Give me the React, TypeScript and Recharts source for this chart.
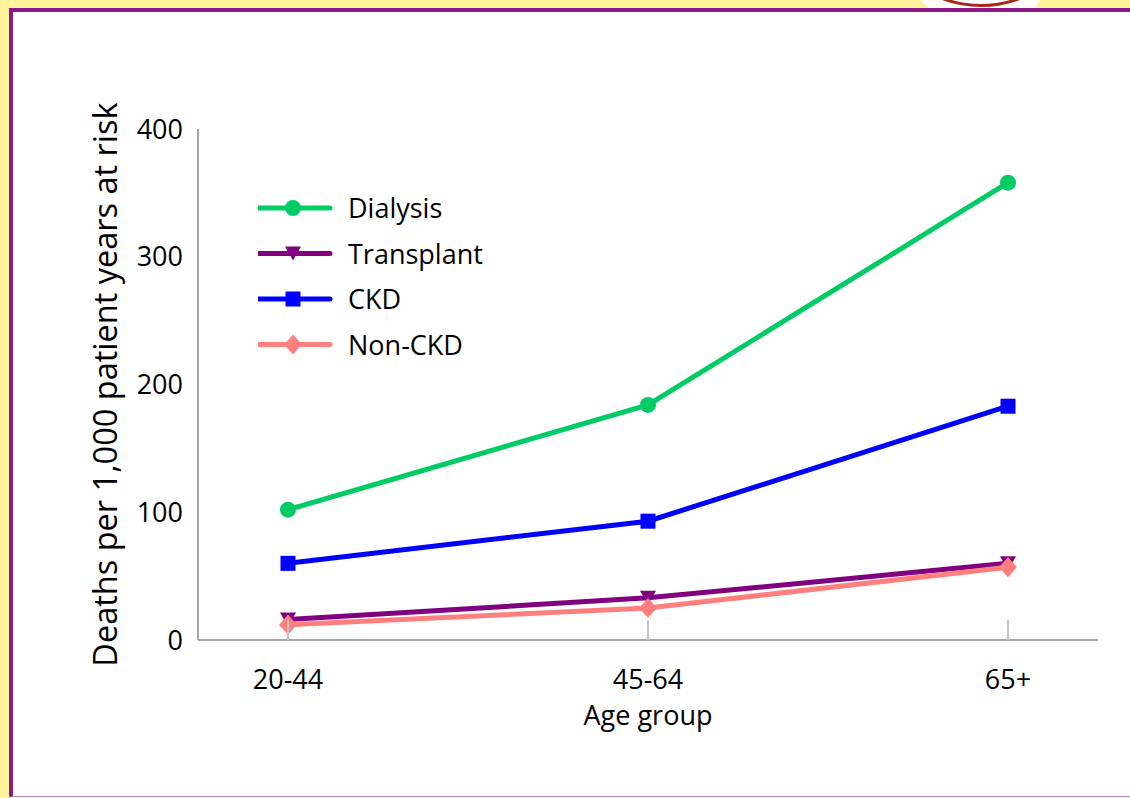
import { LineChart, Line, XAxis, YAxis, Legend } from 'recharts'

const AGE_GROUPS = ['20-44', '45-64', '65+']
const DIALYSIS = [102, 184, 358]
const TRANSPLANT = [16, 33, 60]
const CKD = [60, 93, 183]
const NON_CKD = [12, 25, 57]
const Y_TICKS = [0, 100, 200, 300, 400]

const SERIES = [
  { key: 'dialysis', name: 'Dialysis', color: '#00CC66', marker: 'circle' },
  { key: 'transplant', name: 'Transplant', color: '#800080', marker: 'triangleDown' },
  { key: 'ckd', name: 'CKD', color: '#0000FF', marker: 'square' },
  { key: 'nonCkd', name: 'Non-CKD', color: '#FF7F7F', marker: 'diamond' },
]

const data = AGE_GROUPS.map((age, i) => ({
  age,
  dialysis: DIALYSIS[i],
  transplant: TRANSPLANT[i],
  ckd: CKD[i],
  nonCkd: NON_CKD[i],
}))

const FONT = '"Open Sans", sans-serif'

function Marker({ cx, cy, type, color }: { cx: number; cy: number; type: string; color: string }) {
  if (type === 'circle') return <circle cx={cx} cy={cy} r={8} fill={color} />
  if (type === 'square') return <rect x={cx - 7.5} y={cy - 7.5} width={15} height={15} fill={color} />
  if (type === 'triangleDown')
    return <polygon points={`${cx - 8},${cy - 7} ${cx + 8},${cy - 7} ${cx},${cy + 7}`} fill={color} />
  return <polygon points={`${cx},${cy - 10} ${cx + 9},${cy} ${cx},${cy + 10} ${cx - 9},${cy}`} fill={color} />
}

function AgeTick(props: any) {
  const { x, y, payload } = props
  return (
    <g>
      <line x1={x} x2={x} y1={y - 20} y2={y} stroke="#C4C4C4" strokeWidth={2} />
      <text x={x} y={y + 49} textAnchor="middle" fill="#000" fontSize={27} fontFamily={FONT}>
        {payload.value}
      </text>
    </g>
  )
}

function LegendBox() {
  return (
    <svg width={260} height={190} style={{ display: 'block' }}>
      {SERIES.map((s, i) => {
        const cy = 23 + i * 45.5
        return (
          <g key={s.key}>
            <line x1={0} x2={72} y1={cy} y2={cy} stroke={s.color} strokeWidth={5} strokeLinecap="round" />
            <Marker cx={35} cy={cy} type={s.marker} color={s.color} />
            <text x={90} y={cy + 10} fontSize={27} fill="#000" fontFamily={FONT}>
              {s.name}
            </text>
          </g>
        )
      })}
    </svg>
  )
}

export default function App() {
  return (
    <div
      style={{
        position: 'fixed',
        left: 0,
        top: 0,
        width: 1130,
        height: 798,
        background: '#FFF39B',
        overflow: 'hidden',
        fontFamily: FONT,
      }}
    >
      {/* logo peeking over the top edge */}
      <svg width={1130} height={10} style={{ position: 'absolute', left: 0, top: 0 }}>
        <polygon points="920,0 1040,0 1034,10 932,10" fill="#fff" />
        <circle cx={981} cy={-105} r={110.5} fill="none" stroke="#A8281A" strokeWidth={3} />
      </svg>
      <div
        style={{
          position: 'absolute',
          left: 9,
          top: 8,
          width: 1130,
          height: 789,
          background: '#fff',
          borderTop: '4.5px solid #8A1A88',
          borderLeft: '4px solid #8A1A88',
          borderBottom: '1.5px solid #B58AB5',
          boxSizing: 'border-box',
        }}
      />
      <div style={{ position: 'absolute', left: 0, top: 0 }}>
        <LineChart width={1130} height={798} data={data} margin={{ top: 129, right: 32, bottom: 0, left: 0 }}>
          <XAxis
            dataKey="age"
            padding={{ left: 90, right: 90 }}
            height={158}
            axisLine={{ stroke: '#A6A6A6', strokeWidth: 2 }}
            tickLine={false}
            tickSize={0}
            tickMargin={0}
            tick={<AgeTick />}
            interval={0}
            label={{
              value: 'Age group',
              position: 'insideTop',
              offset: 66,
              fill: '#000',
              fontSize: 27,
              fontFamily: FONT,
            }}
          />
          <YAxis
            domain={[0, 400]}
            ticks={Y_TICKS}
            width={198}
            axisLine={{ stroke: '#A6A6A6', strokeWidth: 2 }}
            tickLine={false}
            tickSize={0}
            tickMargin={15}
            tick={{ fill: '#000', fontSize: 27, fontFamily: FONT }}
            label={{
              value: 'Deaths per 1,000 patient years at risk',
              angle: -90,
              position: 'insideLeft',
              offset: 93,
              dx: 12,
              fill: '#000',
              fontSize: 32.5,
              fontFamily: FONT,
              style: { textAnchor: 'middle' },
            }}
          />
          <Legend
            layout="vertical"
            align="center"
            verticalAlign="middle"
            wrapperStyle={{ left: 258, top: 185, width: 260, height: 190 }}
            content={<LegendBox />}
          />
          {SERIES.map((s) => (
            <Line
              key={s.key}
              dataKey={s.key}
              name={s.name}
              stroke={s.color}
              strokeWidth={5}
              isAnimationActive={false}
              dot={(p: any) => <Marker key={`${s.key}-${p.index}`} cx={p.cx} cy={p.cy} type={s.marker} color={s.color} />}
              activeDot={false}
            />
          ))}
        </LineChart>
      </div>
    </div>
  )
}
